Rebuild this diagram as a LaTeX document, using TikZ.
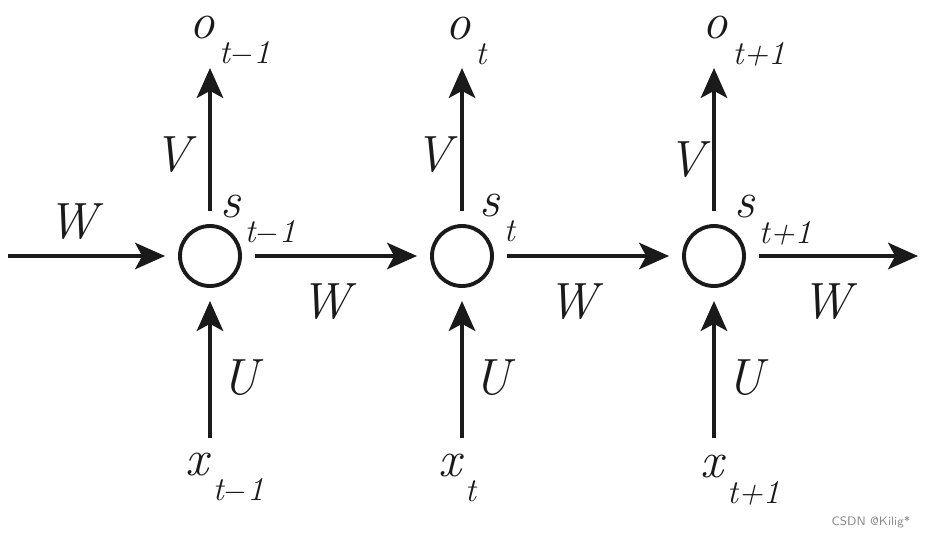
\documentclass[tikz,border=0pt]{standalone}
\usepackage{xcolor}
\usetikzlibrary{arrows.meta}
\definecolor{rnnink}{HTML}{1a1a1a}
\definecolor{markgray}{HTML}{8a8a8a}
\newcommand{\rnnvar}[2]{\textit{#1}\kern0.08em\raisebox{-0.5em}{\fontsize{19}{19}\selectfont\textit{#2}}}
\tikzset{
  state/.style={circle,draw=rnnink,line width=2.2pt,minimum size=1.2cm,inner sep=0pt,outer sep=0.3cm},
  flow/.style={draw=rnnink,line width=2.3pt,-{Stealth[length=17pt,width=15pt,inset=4pt]}},
  wlab/.style={text=rnnink,font=\fontsize{29}{32}\selectfont\itshape,inner sep=0pt},
}
\begin{document}
\begin{tikzpicture}[x=0.02cm,y=-0.02cm]
  \useasboundingbox (0,0) rectangle (928,538);
  % states
  \node[state] (s1) at (210,256) {};
  \node[state] (s2) at (462,256) {};
  \node[state] (s3) at (714,256) {};
  \coordinate (in) at (8,256);
  \coordinate (out) at (918,256);
  % outputs and inputs
  \node[wlab] (o1) at (230,41) {\rnnvar{o}{t$-$1}};
  \node[wlab] (o2) at (466,41) {\rnnvar{o}{t}};
  \node[wlab] (o3) at (744,41) {\rnnvar{o}{t+1}};
  \node[wlab] (x1) at (225,478) {\rnnvar{x}{t$-$1}};
  \node[wlab] (x2) at (457,478) {\rnnvar{x}{t}};
  \node[wlab] (x3) at (740,480) {\rnnvar{x}{t+1}};
  \node[wlab] (h1) at (258,220) {\rnnvar{s}{t$-$1}};
  \node[wlab] (h2) at (497,218) {\rnnvar{s}{t}};
  \node[wlab] (h3) at (773,220) {\rnnvar{s}{t+1}};
  % connectors
  \draw[flow] (in) -- (s1);
  \draw[flow] (s1) -- (s2);
  \draw[flow] (s2) -- (s3);
  \draw[flow] (s3) -- (out);
  \foreach \i in {1,2,3} {
    \draw[flow] (s\i) -- (s\i |- 0,68);
    \draw[flow] (s\i |- 0,438) -- (s\i);
  }
  % weights
  \node[wlab] (w0) at (72,222) {W};
  \node[wlab] (w1) at (325,302) {W};
  \node[wlab] (w2) at (572,302) {W};
  \node[wlab] (w3) at (826,302) {W};
  \node[wlab] (v1) at (172,155) {V};
  \node[wlab] (v2) at (433,155) {V};
  \node[wlab] (v3) at (686,160) {V};
  \node[wlab] (u1) at (240,378) {U};
  \node[wlab] (u2) at (492,378) {U};
  \node[wlab] (u3) at (745,378) {U};
  \node[text=markgray,font=\sffamily\fontsize{7}{8}\selectfont] (mark) at (871,522) {CSDN @Kilig*};
\end{tikzpicture}
\end{document}
